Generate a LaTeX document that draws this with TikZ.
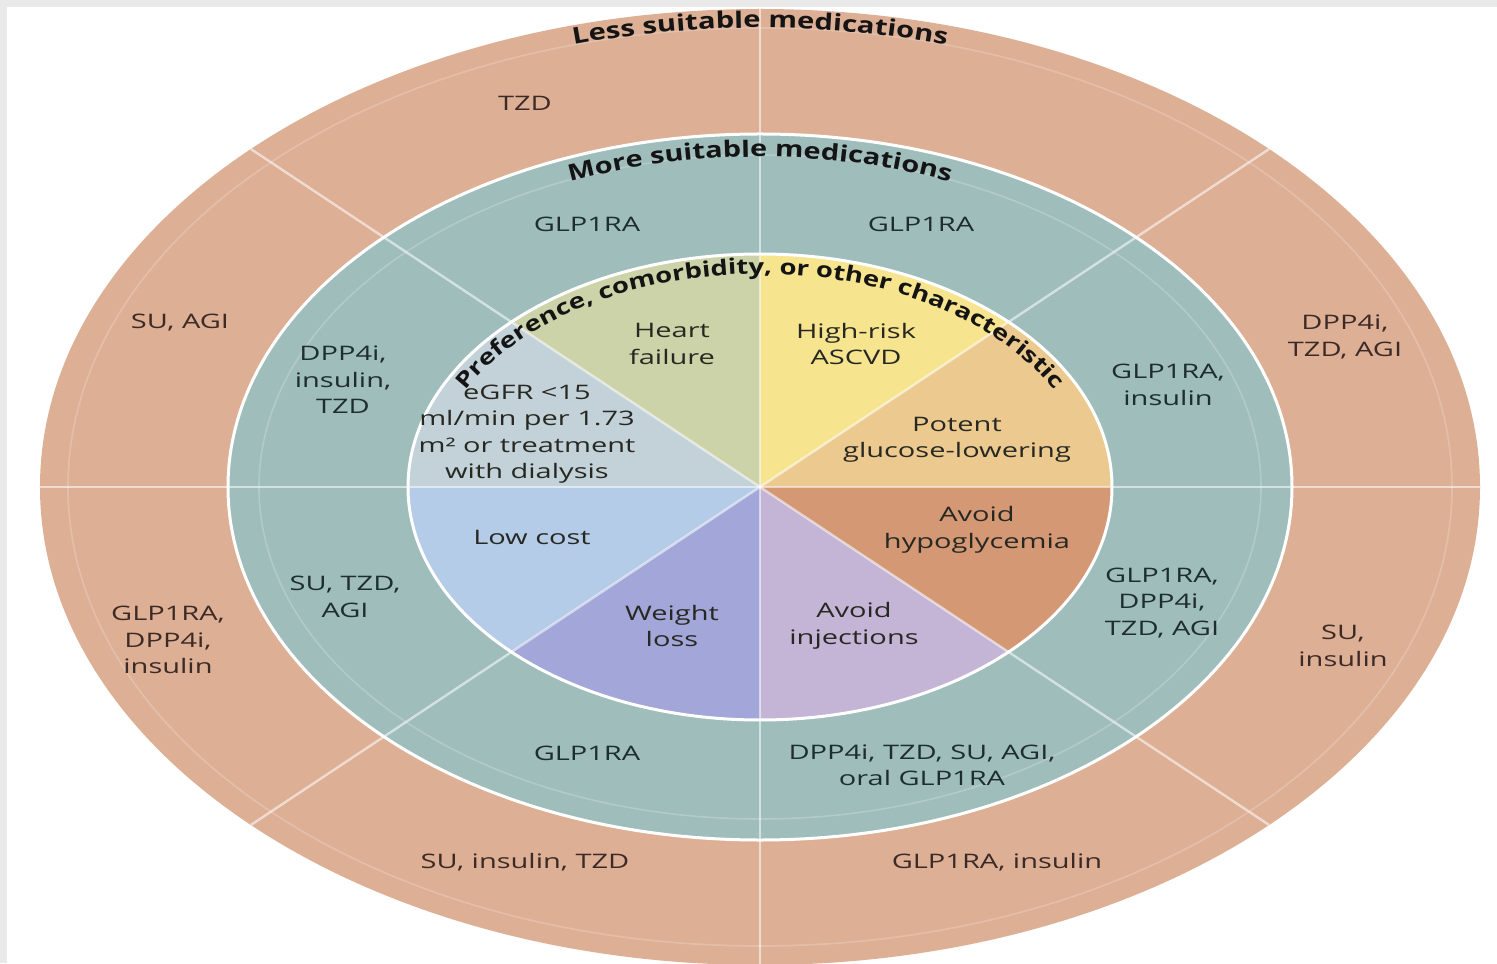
\documentclass[tikz,border=0pt]{standalone}
\usepackage{fontspec}
\usepackage{tikz}
\usetikzlibrary{decorations.text,positioning}
\newfontfamily\lblfont[FakeStretch=1.45]{Open Sans}
\newfontfamily\ttlfont[FakeStretch=1.28]{Open Sans}
\definecolor{frame}{RGB}{233,233,233}
\definecolor{ringout}{RGB}{221,176,150}
\definecolor{ringmid}{RGB}{159,189,187}
\definecolor{heart}{RGB}{204,211,168}
\definecolor{ascvd}{RGB}{246,228,142}
\definecolor{potent}{RGB}{236,201,142}
\definecolor{hypo}{RGB}{212,152,117}
\definecolor{inject}{RGB}{196,181,214}
\definecolor{weight}{RGB}{163,166,216}
\definecolor{lowcost}{RGB}{180,204,232}
\definecolor{egfr}{RGB}{194,210,216}
\definecolor{outtext}{RGB}{60,42,38}
\definecolor{midtext}{RGB}{30,45,48}
\definecolor{intext}{RGB}{40,40,35}
\definecolor{ttltext}{RGB}{20,20,20}
\tikzset{lbl/.style={font=\lblfont\fontsize{10}{13.2}\selectfont,align=center,inner sep=0pt},
         out lbl/.style={lbl,text=outtext},
         mid lbl/.style={lbl,text=midtext},
         in lbl/.style={lbl,text=intext},
         sep line/.style={white,opacity=0.55,line width=1.2pt},
         rim/.style={white,line width=1.5pt},
         guide/.style={white,opacity=0.2,line width=0.8pt},
         ttl/.style 2 args={decorate,decoration={text along path,text align=center,text color=ttltext,
             text={|\ttlfont\bfseries\fontsize{#1}{12}\selectfont|#2}}}
            }

\begin{document}
\begin{tikzpicture}[x=0.5pt,y=0.5pt]

    \useasboundingbox (-760,-476) rectangle (737,487);
    \fill[white] (-760,-476) rectangle (737,487);
    \fill[frame] (-760,480) rectangle (737,487);
    \fill[frame] (-760,-476) rectangle (-753,487);

    \coordinate (c) at (0,0);
    \fill[ringout] (c) ellipse [x radius=720, y radius=478];
    \fill[ringmid] (c) ellipse [x radius=532, y radius=353];

    \foreach \a/\col in {0/potent,45/ascvd,90/heart,135/egfr,180/lowcost,225/weight,270/inject,315/hypo}
        \fill[\col] (c) -- (\a:352 and 233) arc[start angle=\a, delta angle=45, x radius=352, y radius=233] -- cycle;

    \foreach \a in {0,45,90,135}
        \draw[sep line] (\a:720 and 478) -- (\a+180:720 and 478);

    \draw[guide] (c) ellipse [x radius=692, y radius=459];
    \draw[guide] (c) ellipse [x radius=501, y radius=332];
    \draw[rim] (c) ellipse [x radius=532, y radius=353];
    \draw[rim] (c) ellipse [x radius=352, y radius=233];

    \path[ttl={11.4}{Less suitable medications}] (160:692 and 459) arc[start angle=160, end angle=20, x radius=692, y radius=459];
    \path[ttl={11.3}{More suitable medications}] (160:499 and 330) arc[start angle=160, end angle=20, x radius=499, y radius=330];
    \path[ttl={10.7}{Preference, comorbidity, or other characteristic}] (170:330 and 213) arc[start angle=170, end angle=10, x radius=330, y radius=213];

    \node[out lbl] (o-tzd) at (-235,384) {TZD};
    \node[out lbl] (o-suagi) at (-580,164) {SU, AGI};
    \node[out lbl] (o-glp) at (-592,-153) {GLP1RA,\\DPP4i,\\insulin};
    \node[out lbl] (o-suins) at (-235,-375) {SU, insulin, TZD};
    \node[out lbl] (o-glpins) at (237,-375) {GLP1RA, insulin};
    \node[out lbl] (o-su) at (583,-159) {SU,\\insulin};
    \node[out lbl] (o-dpp) at (585,150) {DPP4i,\\TZD, AGI};

    \node[mid lbl] (m-glp-a) at (-173,263) {GLP1RA};
    \node[mid lbl] (m-glp-b) at (161,263) {GLP1RA};
    \node[mid lbl] (m-glpins) at (408,102) {GLP1RA,\\insulin};
    \node[mid lbl] (m-dpp) at (-417,107) {DPP4i,\\insulin,\\TZD};
    \node[mid lbl] (m-su) at (-415,-110) {SU, TZD,\\AGI};
    \node[mid lbl] (m-glp-c) at (-173,-266) {GLP1RA};
    \node[mid lbl] (m-oral) at (162,-278) {DPP4i, TZD, SU, AGI,\\oral GLP1RA};
    \node[mid lbl] (m-glpdpp) at (402,-116) {GLP1RA,\\DPP4i,\\TZD, AGI};

    \node[in lbl] (i-heart) at (-88,143) {Heart\\failure};
    \node[in lbl] (i-ascvd) at (96,143) {High-risk\\ASCVD};
    \node[in lbl] (i-egfr) at (-233,53) {eGFR <15\\ml/min per 1.73\\m² or treatment\\with dialysis};
    \node[in lbl] (i-potent) at (197,47) {Potent\\glucose-lowering};
    \node[in lbl] (i-hypo) at (217,-43) {Avoid\\hypoglycemia};
    \node[in lbl] (i-cost) at (-228,-50) {Low cost};
    \node[in lbl] (i-weight) at (-88,-139) {Weight\\loss};
    \node[in lbl] (i-inject) at (94,-139) {Avoid\\injections};

\end{tikzpicture}
\end{document}
